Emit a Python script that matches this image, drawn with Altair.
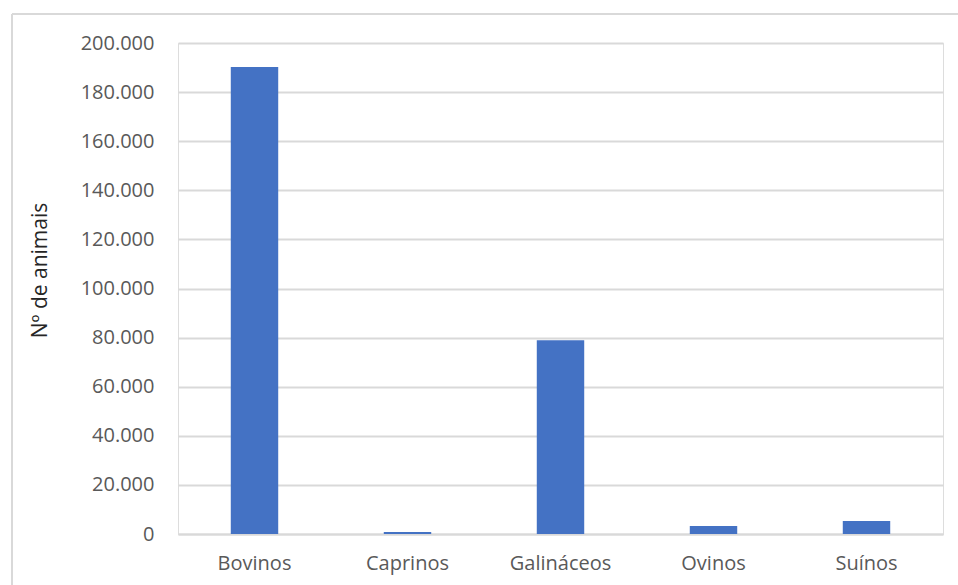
import altair as alt
import pandas as pd

categories = ["Bovinos", "Caprinos", "Galináceos", "Ovinos", "Suínos"]
values = [190200, 800, 78900, 3300, 5300]
y_ticks = [0, 20000, 40000, 60000, 80000, 100000, 120000, 140000, 160000, 180000, 200000]

df = pd.DataFrame({"especie": categories, "animais": values})

FONT = "Open Sans"

bars = alt.Chart(df).mark_bar(color="#4472C4").encode(
    x=alt.X(
        "especie:N",
        sort=categories,
        scale=alt.Scale(paddingInner=0.69, paddingOuter=0.345),
        axis=alt.Axis(
            title=None,
            labelAngle=0,
            labelFont=FONT,
            labelFontSize=20,
            labelColor="#595959",
            labelPadding=19,
            ticks=False,
            grid=False,
            domainColor="#d9d9d9",
            domainWidth=2,
        ),
    ),
    y=alt.Y(
        "animais:Q",
        scale=alt.Scale(domain=[0, 200000]),
        axis=alt.Axis(
            title="Nº de animais",
            values=y_ticks,
            format=",.0f",
            labelFont=FONT,
            labelFontSize=20,
            labelColor="#595959",
            labelPadding=24,
            ticks=False,
            domain=False,
            grid=True,
            gridColor="#d9d9d9",
            gridWidth=2,
            titleFont=FONT,
            titleFontSize=21,
            titleFontWeight="normal",
            titleColor="#262626",
            titleX=-138,
            titleY=227,
            titleAngle=270,
            titleAlign="center",
            titleBaseline="middle",
        ),
    ),
)

frame = alt.Data(values=[{}])
top_line = alt.Chart(frame).mark_rule(color="#d9d9d9", strokeWidth=2).encode(
    x=alt.value(-166),
    x2=alt.value(2000),
    y=alt.value(-29),
)
left_line = alt.Chart(frame).mark_rule(color="#d9d9d9", strokeWidth=2).encode(
    x=alt.value(-166),
    y=alt.value(-29),
    y2=alt.value(800),
)

chart = (
    alt.layer(top_line, left_line, bars)
    .properties(
        width=765,
        height=491,
        autosize=alt.AutoSizeParams(type="none"),
        padding={"left": 178, "top": 43, "right": 15, "bottom": 51},
    )
    .configure_view(stroke="transparent", strokeWidth=0)
    .configure_axis(grid=False)
    .configure(
        background="white",
        locale={"number": {"decimal": ",", "thousands": ".", "grouping": [3], "currency": ["", ""]}},
    )
)

chart.save("out.html", embed_options={"renderer": "svg", "actions": False})
